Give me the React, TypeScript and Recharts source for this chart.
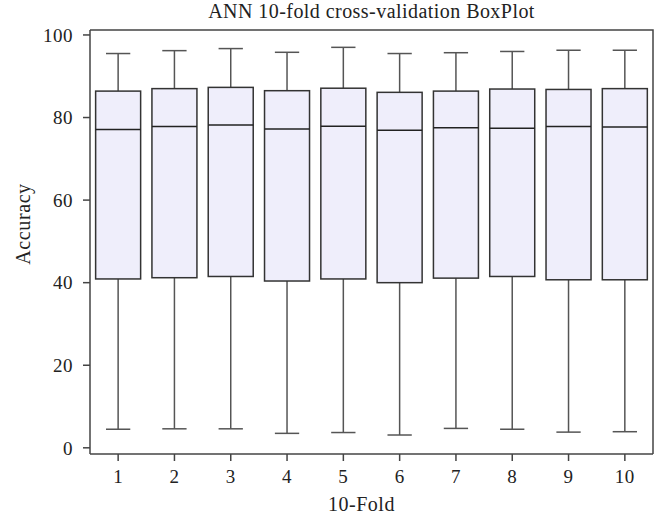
import { Bar, ComposedChart, XAxis, YAxis } from 'recharts';

const folds = ['1', '2', '3', '4', '5', '6', '7', '8', '9', '10'];
const whiskerLow = [4.5, 4.6, 4.6, 3.5, 3.7, 3.1, 4.7, 4.5, 3.8, 3.9];
const q1 = [40.9, 41.2, 41.5, 40.4, 40.9, 40.0, 41.1, 41.5, 40.7, 40.7];
const median = [77.1, 77.8, 78.2, 77.2, 77.9, 76.9, 77.5, 77.4, 77.8, 77.7];
const q3 = [86.4, 87.0, 87.3, 86.5, 87.1, 86.1, 86.4, 86.9, 86.8, 87.0];
const whiskerHigh = [95.5, 96.2, 96.7, 95.8, 97.0, 95.5, 95.7, 96.0, 96.3, 96.3];
const yTicks = [0, 20, 40, 60, 80, 100];
const yDomain = [-1.5, 101.2];

const data = folds.map((fold, i) => ({
  fold,
  range: [whiskerLow[i], whiskerHigh[i]],
  low: whiskerLow[i],
  q1: q1[i],
  median: median[i],
  q3: q3[i],
  high: whiskerHigh[i],
}));

const FONT = '"Liberation Serif", "Times New Roman", serif';
const AXIS = '#444';
const TOP = 30;

// the bar spans low..high, so the box parts are placed inside that pixel range
const BoxShape = (props: any) => {
  const { x, y, width, height, payload } = props;
  const top = Math.min(y, y + height);
  const h = Math.abs(height);
  const { low, high } = payload;
  const toY = (v: number) => top + (h * (high - v)) / (high - low);
  const cx = x + width / 2;
  const cap = width * 0.27;
  return (
    <g>
      <line x1={cx} x2={cx} y1={toY(high)} y2={toY(payload.q3)} stroke="#555" strokeWidth={1.5} />
      <line x1={cx} x2={cx} y1={toY(payload.q1)} y2={toY(low)} stroke="#555" strokeWidth={1.5} />
      <line x1={cx - cap} x2={cx + cap} y1={toY(high)} y2={toY(high)} stroke="#555" strokeWidth={1.5} />
      <line x1={cx - cap} x2={cx + cap} y1={toY(low)} y2={toY(low)} stroke="#555" strokeWidth={1.5} />
      <rect
        x={x}
        y={toY(payload.q3)}
        width={width}
        height={toY(payload.q1) - toY(payload.q3)}
        fill="#efeefb"
        stroke="#333"
        strokeWidth={1.5}
      />
      <line x1={x} x2={x + width} y1={toY(payload.median)} y2={toY(payload.median)} stroke="#222" strokeWidth={1.5} />
    </g>
  );
};

// x-axis label, plus the top and right edges of the plot frame
const XLabel = ({ viewBox }: any) => (
  <g>
    <path
      d={`M${viewBox.x},${TOP} H${viewBox.x + viewBox.width} V${viewBox.y}`}
      fill="none"
      stroke={AXIS}
      strokeWidth={1.5}
    />
    <text
      x={viewBox.x + viewBox.width / 2 - 10}
      y={viewBox.y + 57}
      textAnchor="middle"
      fontSize={20}
      letterSpacing={0.5}
      fontFamily={FONT}
      fill="#222"
    >
      10-Fold
    </text>
  </g>
);

export default function App() {
  return (
    <div style={{ position: 'absolute', left: 0, top: 0, width: 666, height: 520 }}>
      <div
        style={{
          position: 'absolute',
          top: 1,
          left: 90,
          width: 563,
          textAlign: 'center',
          fontFamily: FONT,
          fontSize: 20,
          letterSpacing: 0.45,
          lineHeight: '20px',
          color: '#222',
        }}
      >
        ANN 10-fold cross-validation BoxPlot
      </div>
      <ComposedChart
        width={666}
        height={520}
        data={data}
        margin={{ top: TOP, right: 13, bottom: 0, left: 0 }}
        barCategoryGap="10%"
      >
        <XAxis
          dataKey="fold"
          height={66}
          tickSize={7}
          tickMargin={9}
          axisLine={{ stroke: AXIS, strokeWidth: 1.5 }}
          tickLine={{ stroke: AXIS, strokeWidth: 1.5 }}
          tick={{ fill: '#222', fontSize: 19, fontFamily: FONT, letterSpacing: 0.5 }}
          label={{ content: XLabel }}
        />
        <YAxis
          width={90}
          domain={yDomain}
          ticks={yTicks}
          tickSize={7}
          tickMargin={10}
          axisLine={{ stroke: AXIS, strokeWidth: 1.5 }}
          tickLine={{ stroke: AXIS, strokeWidth: 1.5 }}
          tick={{ fill: '#222', fontSize: 19, fontFamily: FONT, letterSpacing: 0.5 }}
          label={{
            content: () => (
              <text
                transform="translate(30,224) rotate(-90)"
                textAnchor="middle"
                fontSize={20}
                letterSpacing={0.6}
                fontFamily={FONT}
                fill="#222"
              >
                Accuracy
              </text>
            ),
          }}
        />
        <Bar dataKey="range" shape={BoxShape} isAnimationActive={false} />
      </ComposedChart>
    </div>
  );
}
